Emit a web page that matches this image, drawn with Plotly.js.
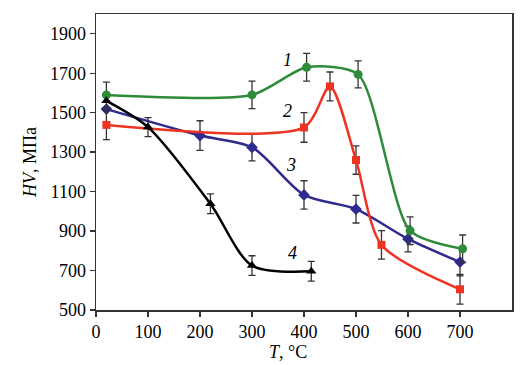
<!DOCTYPE html>
<html>
<head>
<meta charset="utf-8">
<script src="https://cdn.plot.ly/plotly-3.0.1.min.js"></script>
<style>html,body{margin:0;padding:0;background:#fff;}#chart{width:525px;height:365px;}</style>
</head>
<body>
<div id="chart"></div>
<script>
// Series 1 (green circles)
const x1 = [20, 300, 405, 504, 604, 705];
const y1 = [1590, 1590, 1730, 1694, 902, 810];
const e1 = [65, 70, 70, 68, 70, 70];
// Series 2 (red squares)
const x2 = [20, 400, 450, 500, 549, 700];
const y2 = [1438, 1425, 1633, 1260, 830, 605];
const e2 = [75, 75, 73, 72, 72, 75];
// Series 3 (blue diamonds)
const x3 = [20, 200, 300, 400, 500, 600, 700];
const y3 = [1518, 1384, 1324, 1083, 1011, 860, 743];
const e3 = [0, 75, 68, 72, 70, 65, 70];
// Series 4 (black triangles)
const x4 = [20, 100, 220, 300, 414];
const y4 = [1560, 1427, 1038, 725, 696];
const e4 = [0, 48, 50, 50, 50];
// Curve labels
const labelText = ["1", "2", "3", "4"];
const labelX = [368, 368, 375, 377];
const labelY = [1768, 1506, 1236, 788];
// Axis ticks
const xTicks = [0, 100, 200, 300, 400, 500, 600, 700];
const yTicks = [500, 700, 900, 1100, 1300, 1500, 1700, 1900];

function series(x, y, e, color, symbol, size, smooth) {
  return {
    x: x, y: y, type: 'scatter', mode: 'lines+markers',
    line: {color: color, width: 2.5, shape: 'spline', smoothing: smooth},
    marker: {color: color, symbol: symbol, size: size},
    error_y: {type: 'data', array: e, visible: true, color: '#333', thickness: 1.3, width: 3.5},
    showlegend: false, hoverinfo: 'x+y'
  };
}

const data = [
  series(x3, y3, e3, '#2e2a8e', 'diamond', 9, 0.8),
  series(x2, y2, e2, '#ee3322', 'square', 8, 0.75),
  series(x1, y1, e1, '#2e8b3a', 'circle', 9, 0.7),
  series(x4, y4, e4, '#000000', 'triangle-up', 9, 0.8)
];

const annotations = labelText.map((t, i) => ({
  x: labelX[i], y: labelY[i], xref: 'x', yref: 'y', text: '<i>' + t + '</i>',
  showarrow: false, font: {family: 'Liberation Serif', size: 18, color: '#000'}
}));
annotations.push({
  x: 370, y: -0.1, xref: 'x', yref: 'paper', yanchor: 'top', showarrow: false,
  text: '<i>T</i>, °C', font: {family: 'Liberation Serif', size: 18, color: '#000'}
});

const layout = {
  width: 525, height: 365,
  margin: {l: 96, r: 13, t: 14, b: 55},
  paper_bgcolor: '#fff', plot_bgcolor: '#fff',
  font: {family: 'Liberation Serif', size: 18, color: '#000'},
  xaxis: {
    range: [0, 800], tickvals: xTicks, ticktext: xTicks.map(String),
    showgrid: false, zeroline: false, showline: true, mirror: true,
    linecolor: '#333', linewidth: 1.5, ticks: 'outside', ticklen: 5, tickcolor: '#333', tickwidth: 1.3,
    tickfont: {family: 'Liberation Serif', size: 18}
  },
  yaxis: {
    range: [500, 2000], tickvals: yTicks, ticktext: yTicks.map(String),
    showgrid: false, zeroline: false, showline: true, mirror: true,
    linecolor: '#333', linewidth: 1.5, ticks: 'outside', ticklen: 5, tickcolor: '#333', tickwidth: 1.3,
    tickfont: {family: 'Liberation Serif', size: 18},
    title: {text: '<i>HV</i>, МПа', font: {family: 'Liberation Serif', size: 18}, standoff: 8}
  },
  annotations: annotations
};

Plotly.newPlot('chart', data, layout, {displayModeBar: false, staticPlot: true});
</script>
</body>
</html>
